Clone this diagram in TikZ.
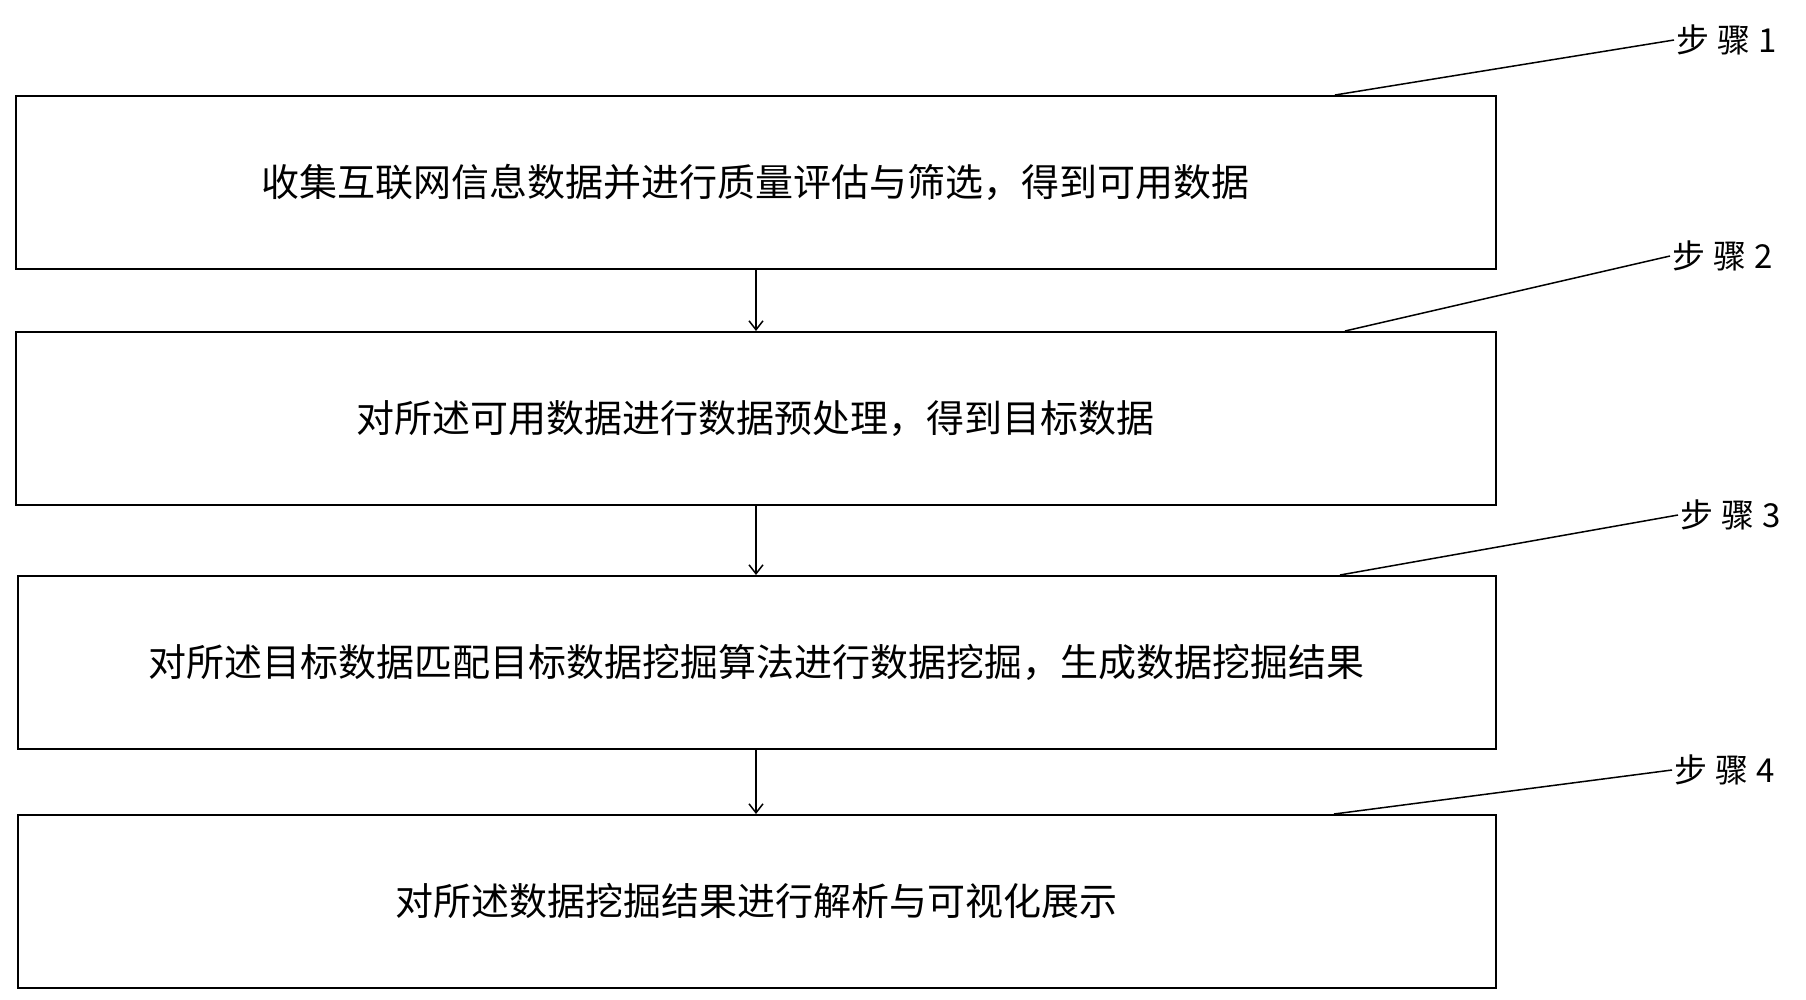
\documentclass[tikz,border=0pt]{standalone}
\usepackage{fontspec}
\setmainfont{Noto Sans CJK SC}
\usetikzlibrary{arrows.meta}
\begin{document}
\begin{tikzpicture}[x=1pt,y=-1pt,
  box/.style={draw,line width=1.5pt,minimum width=1480pt,minimum height=173pt,anchor=north west,inner sep=0pt,font=\fontsize{38}{44}\selectfont},
  lbl/.style={anchor=west,font=\fontsize{33}{38}\selectfont,inner sep=2pt},
  lead/.style={line width=1.5pt},
  arr/.style={line width=1.5pt,-{Straight Barb[length=9pt,width=14pt]}}]
\useasboundingbox (0,0) rectangle (1806,999);
\node[box] (b1) at (15,95) {收集互联网信息数据并进行质量评估与筛选，得到可用数据};
\node[box] (b2) at (15,331) {对所述可用数据进行数据预处理，得到目标数据};
\node[box,minimum width=1478pt] (b3) at (17,575) {对所述目标数据匹配目标数据挖掘算法进行数据挖掘，生成数据挖掘结果};
\node[box,minimum width=1478pt] (b4) at (17,814) {对所述数据挖掘结果进行解析与可视化展示};
\node[lbl] (l1) at (1674,40) {步\hspace{8pt}骤\hspace{8pt}1};
\node[lbl] (l2) at (1670,256) {步\hspace{8pt}骤\hspace{8pt}2};
\node[lbl] (l3) at (1678,515) {步\hspace{8pt}骤\hspace{8pt}3};
\node[lbl] (l4) at (1672,770) {步\hspace{8pt}骤\hspace{8pt}4};
\coordinate (p1) at (1335,95); \coordinate (p2) at (1345,331);
\coordinate (p3) at (1340,575); \coordinate (p4) at (1334,814);
\draw[lead] (p1) -- (l1.west); \draw[lead] (p2) -- (l2.west);
\draw[lead] (p3) -- (l3.west); \draw[lead] (p4) -- (l4.west);
\draw[arr] (b1.south -| 756,0) -- (b2.north -| 756,0);
\draw[arr] (b2.south -| 756,0) -- (b3.north -| 756,0);
\draw[arr] (b3.south -| 756,0) -- (b4.north -| 756,0);
\end{tikzpicture}
\end{document}
